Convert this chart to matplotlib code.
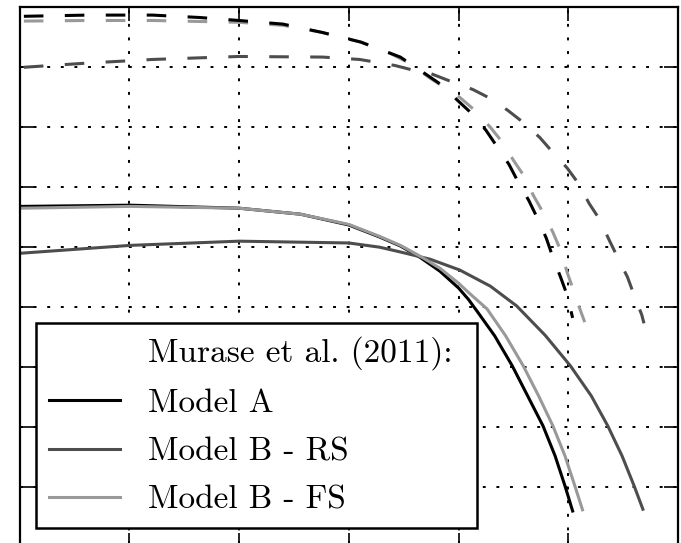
import matplotlib
matplotlib.use("Agg")
import matplotlib.pyplot as plt
from matplotlib.lines import Line2D
import numpy as np

# curves (arbitrary units, x 0..6, y 0..9)
xa = [0.02, 1.01, 2.00, 2.56, 3.00, 3.28, 3.47, 3.65, 3.83, 4.00, 4.09, 4.17, 4.33, 4.49, 4.63, 4.77, 4.88, 4.97, 5.04]
ya = [5.68, 5.70, 5.65, 5.55, 5.37, 5.17, 5.02, 4.83, 4.60, 4.32, 4.13, 3.93, 3.52, 3.02, 2.52, 2.02, 1.52, 1.02, 0.60]

xrs = [0.02, 1.01, 2.00, 3.00, 3.28, 3.47, 3.74, 4.01, 4.29, 4.53, 4.79, 5.02, 5.21, 5.36, 5.49, 5.60, 5.68]
yrs = [4.90, 5.03, 5.10, 5.07, 5.00, 4.92, 4.80, 4.62, 4.35, 4.02, 3.53, 3.02, 2.52, 2.02, 1.52, 1.02, 0.63]

xfs = [0.02, 1.01, 2.00, 2.56, 3.00, 3.28, 3.47, 3.65, 3.83, 4.00, 4.10, 4.26, 4.43, 4.59, 4.73, 4.86, 4.97, 5.06, 5.13]
yfs = [5.65, 5.68, 5.65, 5.55, 5.38, 5.18, 5.03, 4.85, 4.65, 4.40, 4.23, 3.97, 3.52, 3.02, 2.52, 2.02, 1.52, 1.02, 0.62]

# dashed counterparts
xa_d = [0.04, 0.62, 1.21, 1.64, 2.00, 2.40, 2.76, 3.11, 3.47, 3.69, 3.85, 3.99, 4.12, 4.25,
        4.35, 4.46, 4.54, 4.64, 4.72, 4.80, 4.86, 4.93, 4.99, 5.04]
ya_d = [8.85, 8.87, 8.87, 8.83, 8.78, 8.72, 8.58, 8.42, 8.17, 7.90, 7.70, 7.45, 7.23, 6.95,
        6.68, 6.38, 6.10, 5.78, 5.48, 5.15, 4.83, 4.50, 4.20, 3.82]

xrs_d = [0.04, 0.62, 1.21, 2.00, 2.76, 3.10, 3.42, 3.59, 3.74, 3.95, 4.13, 4.29, 4.45, 4.59,
         4.74, 4.86, 4.99, 5.09, 5.19, 5.29, 5.37, 5.45, 5.54, 5.60, 5.67, 5.69]
yrs_d = [8.00, 8.07, 8.13, 8.18, 8.17, 8.13, 8.03, 7.95, 7.90, 7.75, 7.63, 7.48, 7.28, 7.08,
         6.83, 6.58, 6.32, 6.07, 5.73, 5.45, 5.13, 4.83, 4.50, 4.20, 3.87, 3.73]

xfs_d = [0.04, 0.62, 1.21, 2.00, 2.40, 2.76, 3.11, 3.38, 3.54, 3.74, 4.01, 4.15, 4.29, 4.40,
         4.50, 4.60, 4.68, 4.77, 4.86, 4.93, 4.99, 5.04, 5.11, 5.15]
yfs_d = [8.77, 8.78, 8.78, 8.75, 8.70, 8.58, 8.42, 8.23, 8.08, 7.82, 7.50, 7.28, 7.00, 6.75,
         6.45, 6.18, 5.87, 5.58, 5.25, 4.95, 4.58, 4.32, 3.95, 3.75]

labels = ["Murase et al. (2011): ", "Model A", "Model B - RS", "Model B - FS"]
c_a, c_rs, c_fs = "black", "#4d4d4d", "#999999"

plt.rcParams["font.family"] = ["cmr10", "DejaVu Serif"]

fig = plt.figure(figsize=(6.81, 5.43), dpi=100)
ax = fig.add_axes([19.5 / 681, -4 / 543, 658.5 / 681, 539.7 / 543])

lw = 2.2
dash = (0, (6.4, 7.0))
la, = ax.plot(xa, ya, color=c_a, lw=lw)
lrs, = ax.plot(xrs, yrs, color=c_rs, lw=lw)
lfs, = ax.plot(xfs, yfs, color=c_fs, lw=lw)
ax.plot(xfs_d, yfs_d, color=c_fs, lw=lw, ls=dash)
ax.plot(xa_d, ya_d, color=c_a, lw=lw, ls=dash)
ax.plot(xrs_d, yrs_d, color=c_rs, lw=lw, ls=dash)

ax.set_xlim(0, 6)
ax.set_ylim(0, 9)
ax.set_xticks(np.arange(0, 7, 1))
ax.set_yticks(np.arange(0, 10, 1))
ax.tick_params(which="both", direction="in", top=True, right=True,
               length=10, width=1.2, labelbottom=False, labelleft=False)
ax.grid(True, color="k", ls=(0, (1.5, 5.5)), lw=1.4)
ax.set_axisbelow(True)
for s in ax.spines.values():
    s.set_linewidth(1.6)

blank = Line2D([], [], color="none")
leg = ax.legend([blank, la, lrs, lfs], labels, loc="lower left",
                bbox_to_anchor=(0.025, 0.035), borderaxespad=0,
                fancybox=False, edgecolor="k", framealpha=1, fontsize=24,
                handlelength=2.13, handletextpad=0.84, labelspacing=0.57,
                borderpad=0.4)
leg.get_frame().set_linewidth(1.8)

fig.savefig("out.png", dpi=100)
